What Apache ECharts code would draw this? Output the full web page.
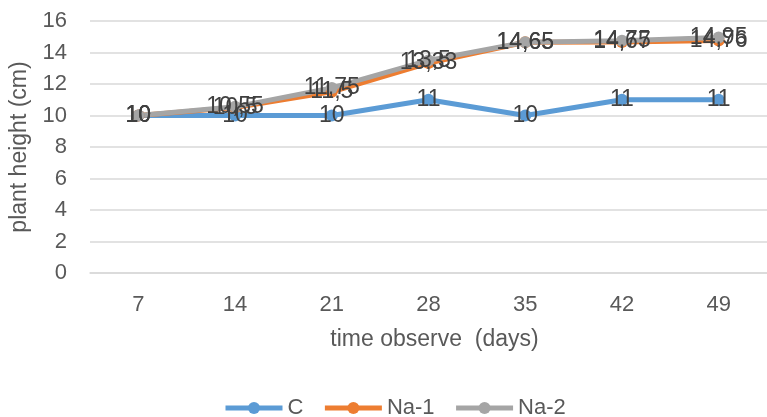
<!DOCTYPE html>
<html>
<head>
<meta charset="utf-8">
<script src="https://cdn.jsdelivr.net/npm/echarts@6/dist/echarts.min.js"></script>
<style>
  html, body { margin: 0; padding: 0; background: #fff; overflow: hidden; }
  #chart { width: 767px; height: 417px; }
</style>
</head>
<body>
<div id="chart"></div>
<script>
// Plant height over the observation period
const days = ['7', '14', '21', '28', '35', '42', '49'];
const heightC = [10, 10, 10, 11, 10, 11, 11];
const heightNa1 = [10, 10.5, 11.5, 13.33, 14.65, 14.67, 14.76];
const heightNa2 = [10, 10.55, 11.75, 13.5, 14.65, 14.75, 14.95];
const yTicks = { min: 0, max: 16, interval: 2 };

const FONT = '"Liberation Sans", Arial, sans-serif';
const TICK_TEXT = { color: '#595959', fontSize: 22, fontFamily: FONT };
const TITLE_TEXT = { color: '#595959', fontSize: 23, fontFamily: FONT };
const fmt = p => String(p.value).replace('.', ',');

function series(name, data, color) {
  return {
    name: name,
    type: 'line',
    data: data,
    symbol: 'circle',
    symbolSize: 12,
    lineStyle: { width: 5, color: color },
    itemStyle: { color: color },
    label: {
      show: true,
      position: 'inside',
      formatter: fmt,
      color: '#404040',
      fontSize: 23,
      fontFamily: FONT
    },
    emphasis: { disabled: true },
    animation: false
  };
}

const chart = echarts.init(document.getElementById('chart'));
chart.setOption({
  animation: false,
  // the plot runs a little past the right edge of the canvas
  grid: { left: 90, width: 692, top: 21, height: 252 },
  legend: {
    top: 392,
    left: 218,
    itemWidth: 57,
    itemHeight: 15,
    itemGap: 19,
    lineStyle: { width: 5 },
    textStyle: TICK_TEXT,
    data: ['C', 'Na-1', 'Na-2']
  },
  xAxis: {
    type: 'category',
    data: days,
    boundaryGap: true,
    name: 'time observe  (days)',
    nameLocation: 'middle',
    nameGap: 55,
    nameTextStyle: Object.assign({ padding: [0, 0, 0, 12] }, TITLE_TEXT),
    axisLine: { lineStyle: { color: '#d9d9d9', width: 1.5 } },
    axisTick: { show: false },
    axisLabel: Object.assign({ margin: 21 }, TICK_TEXT)
  },
  yAxis: {
    type: 'value',
    min: yTicks.min,
    max: yTicks.max,
    interval: yTicks.interval,
    name: 'plant height (cm)',
    nameLocation: 'middle',
    nameGap: 48,
    nameTextStyle: TITLE_TEXT,
    axisLine: { show: false },
    axisTick: { show: false },
    axisLabel: Object.assign({ margin: 23 }, TICK_TEXT),
    splitLine: { lineStyle: { color: '#d9d9d9', width: 1.5 } }
  },
  series: [
    series('C', heightC, '#5B9BD5'),
    series('Na-1', heightNa1, '#ED7D31'),
    series('Na-2', heightNa2, '#A5A5A5')
  ]
});
</script>
</body>
</html>
